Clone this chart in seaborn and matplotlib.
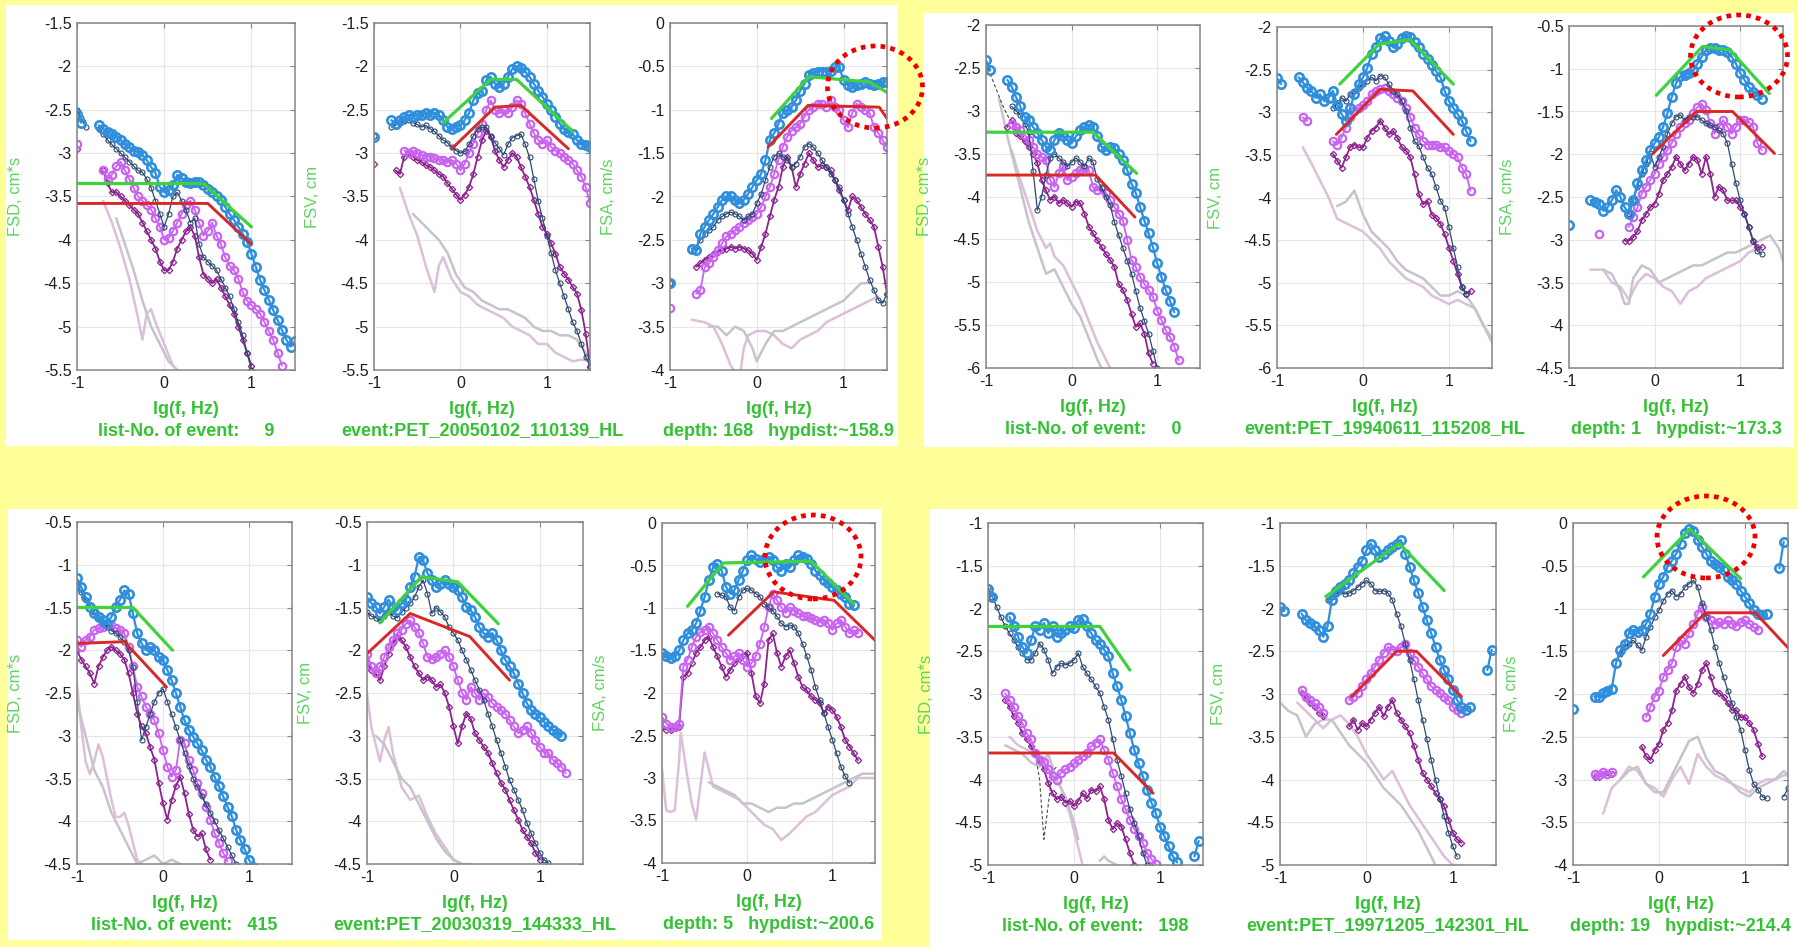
import numpy as np
import pandas as pd
import matplotlib
matplotlib.use("Agg")
import matplotlib.pyplot as plt
import seaborn as sns
from matplotlib.patches import Rectangle, Ellipse

N = None
STEP = 0.05  # lg(f) spacing of the spectral samples

# ======================= event 9 =======================
EV9_TEXT = ("list-No. of event:     9", "event:PET_20050102_110139_HL", "depth: 168   hypdist:~158.9")
# FSD
EV9_FSD_BLUE = (-1.0, [-2.55, -2.65, N, N, N, -2.68, -2.72, -2.76, -2.78, -2.81, -2.85, -2.89, -2.93, -2.97, -2.99, -3.02, -3.08, -3.16, -3.23, -3.39, -3.45, -3.43, -3.37, -3.25, -3.29, -3.33, -3.34, -3.33, -3.33, -3.37, -3.41, -3.45, -3.49, -3.54, -3.62, -3.70, -3.77, -3.85, -3.93, -4.02, -4.16, -4.31, -4.46, -4.58, -4.69, -4.81, -4.92, -5.04, -5.15, -5.23, -5.17])
EV9_FSD_NAVY = (-1.0, [-2.5, -2.6, -2.7, N, N, -2.72, -2.78, -2.85, -2.9, -2.95, -3.0, -3.05, -3.1, -3.15, -3.2, -3.22, -3.3, -3.4, -3.55, -3.7, -3.85, -3.7, -3.5, -3.45, -3.55, -3.65, -3.8, -3.75, -4.05, -4.2, -4.25, -4.3, -4.35, -4.45, -4.55, -4.65, -4.8, -4.95, -5.1, -5.3, -5.5])
EV9_FSD_VIOL = (-1.0, [-2.9, N, N, N, N, N, -3.2, -3.3, -3.25, -3.15, -3.1, -3.2, -3.3, -3.4, -3.5, -3.55, -3.6, -3.65, -3.75, -3.85, -4.0, -3.98, -3.9, -3.8, -3.7, -3.6, -3.55, -3.65, -3.8, -3.95, -3.9, -3.8, -3.95, -4.05, -4.2, -4.3, -4.35, -4.45, -4.6, -4.7, -4.75, -4.8, -4.85, -4.95, -5.05, -5.15, -5.3, -5.45])
EV9_FSD_PURP = (-1.0, [-2.95, N, N, N, N, N, -3.2, -3.35, -3.45, -3.45, -3.5, -3.55, -3.6, -3.65, -3.7, -3.8, -3.9, -4.0, -4.1, -4.25, -4.35, -4.35, -4.25, -4.1, -4.0, -3.9, -3.85, -3.95, -4.2, -4.4, -4.45, -4.5, -4.45, -4.55, -4.65, -4.75, -4.85, -5.0, -5.15, -5.3, -5.45])
EV9_FSD_PINK_X = [-0.7, -0.6, -0.5, -0.4, -0.3, -0.25, -0.2, -0.15, -0.1, 0.0, 0.1]
EV9_FSD_PINK_Y = [-3.55, -3.8, -4.1, -4.45, -4.9, -5.15, -4.85, -4.8, -4.95, -5.2, -5.45]
EV9_FSD_GREY_X = [-0.55, -0.45, -0.35, -0.25, -0.15, -0.05, 0.05, 0.15]
EV9_FSD_GREY_Y = [-3.75, -4.05, -4.35, -4.7, -5.0, -5.2, -5.4, -5.5]
EV9_FSD_GREEN_X = [-1.0, 0.45, 1.0]
EV9_FSD_GREEN_Y = [-3.35, -3.35, -3.85]
EV9_FSD_RED_X = [-1.0, 0.5, 1.0]
EV9_FSD_RED_Y = [-3.58, -3.58, -4.05]
# FSV
EV9_FSV_BLUE = (-1.0, [-2.81, N, N, N, -2.62, -2.66, -2.62, -2.58, -2.56, -2.58, -2.56, -2.56, -2.54, -2.56, -2.54, -2.56, -2.62, -2.70, -2.72, -2.70, -2.68, -2.62, -2.54, -2.39, -2.31, -2.28, -2.16, -2.12, -2.2, -2.24, -2.2, -2.12, -2.03, -2.0, -2.02, -2.06, -2.12, -2.2, -2.28, -2.35, -2.43, -2.5, -2.58, -2.66, -2.72, -2.76, -2.78, -2.85, -2.89, -2.91, -2.93])
EV9_FSV_NAVY = (-1.0, [-2.8, N, N, N, -2.7, -2.68, -2.65, -2.63, -2.62, -2.65, -2.67, -2.7, -2.68, -2.72, -2.75, -2.8, -2.85, -2.88, -2.93, -2.97, -3.0, -2.98, -2.9, -2.8, -2.72, -2.7, -2.7, -2.8, -2.88, -2.95, -3.02, -2.9, -2.82, -2.8, -2.78, -2.9, -3.05, -3.3, -3.55, -3.75, -3.95, -4.15, -4.35, -4.5, -4.65, -4.8, -4.95, -5.05, -5.2, -5.35, -5.45])
EV9_FSV_VIOL = (-0.65, [-2.97, -3.0, -2.98, -3.0, -3.02, -3.04, -3.04, -3.06, -3.08, -3.08, -3.1, -3.08, -3.12, -3.2, -3.12, -3.0, -2.89, -2.77, -2.66, -2.5, -2.39, -2.5, -2.54, -2.5, -2.54, -2.47, -2.39, -2.43, -2.54, -2.66, -2.77, -2.85, -2.89, -2.85, -2.93, -2.97, -3.0, -3.04, -3.08, -3.12, -3.2, -3.27, -3.39, -3.58])
EV9_FSV_PURP = (-1.0, [-3.12, N, N, N, N, -3.2, -3.24, -3.04, -3.0, -3.04, -3.08, -3.1, -3.14, -3.16, -3.2, -3.24, -3.27, -3.35, -3.41, -3.48, -3.54, -3.48, -3.39, -3.24, -3.04, -2.85, -2.74, -2.81, -2.97, -3.08, -3.16, -3.08, -3.0, -3.04, -3.16, -3.27, -3.39, -3.54, -3.7, -3.85, -3.93, -4.04, -4.16, -4.31, -4.39, -4.46, -4.54, -4.62, -4.81, -5.08, -5.46])
EV9_FSV_PINK_X = [-0.7, -0.6, -0.5, -0.4, -0.3, -0.25, -0.2, -0.1, 0.0, 0.1, 0.2, 0.3, 0.4, 0.5, 0.6, 0.7, 0.8, 0.9, 1.0, 1.1, 1.2, 1.3, 1.4, 1.5]
EV9_FSV_PINK_Y = [-3.4, -3.7, -3.95, -4.3, -4.6, -4.3, -4.2, -4.45, -4.6, -4.65, -4.75, -4.8, -4.85, -4.9, -5.0, -5.05, -5.1, -5.2, -5.2, -5.3, -5.35, -5.4, -5.38, -5.4]
EV9_FSV_GREY_X = [-0.55, -0.45, -0.35, -0.25, -0.15, -0.05, 0.05, 0.15, 0.25, 0.35, 0.45, 0.55, 0.65, 0.75, 0.85, 0.95, 1.05, 1.15, 1.25, 1.35, 1.45, 1.5]
EV9_FSV_GREY_Y = [-3.7, -3.8, -3.9, -4.0, -4.15, -4.4, -4.55, -4.6, -4.7, -4.75, -4.8, -4.8, -4.85, -4.9, -5.0, -5.05, -5.05, -5.1, -5.1, -5.15, -5.3, -5.45]
EV9_FSV_GREEN_X = [-0.2, 0.35, 0.65, 1.3]
EV9_FSV_GREEN_Y = [-2.65, -2.15, -2.15, -2.75]
EV9_FSV_RED_X = [-0.1, 0.4, 0.7, 1.25]
EV9_FSV_RED_Y = [-2.95, -2.47, -2.45, -2.95]
# FSA
EV9_FSA_BLUE = (-1.0, [-3.0, N, N, N, N, -2.6, -2.62, -2.43, -2.35, -2.27, -2.2, -2.12, -2.04, -2.0, -2.0, -2.04, -2.08, -2.04, -1.97, -1.89, -1.81, -1.74, -1.58, -1.35, -1.27, -1.16, -1.04, -1.0, -0.97, -0.89, -0.78, -0.7, -0.6, -0.58, -0.56, -0.56, -0.56, -0.55, -0.51, -0.51, -0.66, -0.72, -0.74, -0.72, -0.7, -0.68, -0.7, -0.72, -0.7, -0.68, -0.68])
EV9_FSA_NAVY = (-1.0, [-3.0, N, N, N, N, N, -2.58, -2.5, -2.43, -2.39, -2.35, -2.27, -2.23, -2.2, -2.18, -2.2, -2.23, -2.27, -2.23, -2.2, -2.08, -1.97, -1.81, -1.66, -1.54, -1.5, -1.54, -1.58, -1.66, -1.62, -1.54, -1.43, -1.39, -1.43, -1.5, -1.58, -1.66, -1.74, -1.81, -1.89, -2.04, -2.2, -2.35, -2.5, -2.66, -2.81, -2.96, -3.08, -3.19, -3.23, -3.12])
EV9_FSA_VIOL = (-1.0, [-3.29, N, N, N, N, N, -3.12, -3.08, -2.81, -2.77, -2.7, -2.62, -2.54, -2.46, -2.43, -2.39, -2.35, -2.31, -2.27, -2.24, -2.2, -2.12, -2.0, -1.89, -1.74, -1.58, -1.43, -1.31, -1.24, -1.2, -1.16, -1.08, -1.0, -0.97, -0.93, -0.93, -0.97, -0.89, -0.97, -1.0, -1.12, -1.2, -1.04, -0.93, -0.97, -1.0, -1.04, -1.2, -1.27, -1.35, -1.43])
EV9_FSA_PURP = (-0.7, [-2.81, -2.77, -2.73, -2.7, -2.66, -2.64, -2.62, -2.6, -2.58, -2.6, -2.58, -2.6, -2.62, -2.66, -2.73, -2.58, -2.43, -2.23, -2.04, -1.89, -1.66, -1.54, -1.66, -1.89, -1.74, -1.62, -1.5, -1.58, -1.66, -1.64, -1.66, -1.7, -1.81, -1.93, -2.04, -2.16, -2.0, -2.04, -2.12, -2.2, -2.27, -2.35, -2.58, -2.81, -3.12])
EV9_FSA_PINK_X = [-0.75, -0.6, -0.5, -0.4, -0.3, -0.2, -0.15, -0.1, 0.0, 0.1, 0.2, 0.3, 0.4, 0.5, 0.6, 0.7, 0.8, 0.9, 1.0, 1.1, 1.2, 1.3, 1.4]
EV9_FSA_PINK_Y = [-3.42, -3.45, -3.5, -3.7, -3.95, -4.1, -3.75, -3.6, -3.55, -3.55, -3.6, -3.7, -3.75, -3.65, -3.6, -3.55, -3.45, -3.4, -3.35, -3.3, -3.25, -3.2, -3.15]
EV9_FSA_GREY_X = [-0.55, -0.45, -0.35, -0.25, -0.15, -0.05, 0.0, 0.1, 0.2, 0.3, 0.4, 0.5, 0.6, 0.7, 0.8, 0.9, 1.0, 1.1, 1.2, 1.3]
EV9_FSA_GREY_Y = [-3.5, -3.5, -3.6, -3.5, -3.55, -3.75, -3.9, -3.7, -3.55, -3.55, -3.5, -3.45, -3.4, -3.35, -3.3, -3.25, -3.2, -3.1, -3.0, -3.0]
EV9_FSA_GREEN_X = [0.17, 0.6, 1.3, 1.5]
EV9_FSA_GREEN_Y = [-1.1, -0.62, -0.68, -0.8]
EV9_FSA_RED_X = [0.13, 0.59, 1.41, 1.5]
EV9_FSA_RED_Y = [-1.43, -0.95, -0.97, -1.1]

# ======================= event 0 =======================
EV0_TEXT = ("list-No. of event:     0", "event:PET_19940611_115208_HL", "depth: 1   hypdist:~173.3")
EV0_FSD_BLUE = (-1.0, [-2.41, -2.53, N, N, N, -2.64, -2.72, -2.84, -2.95, -3.07, -3.11, -3.19, -3.26, -3.34, -3.42, -3.46, -3.34, -3.26, -3.3, -3.34, -3.38, -3.3, -3.23, -3.19, -3.17, -3.19, -3.3, -3.42, -3.46, -3.42, -3.44, -3.5, -3.58, -3.69, -3.85, -3.96, -4.12, -4.28, -4.43, -4.59, -4.78, -4.94, -5.09, -5.22, -5.35])
EV0_FSD_NAVY = (-1.0, [-2.49, N, N, N, N, N, -2.95, -3.0, -3.05, -3.15, -3.25, -3.7, -4.16, -4.0, -3.75, -3.55, -3.5, -3.55, -3.6, -3.65, -3.6, -3.55, -3.6, -3.65, -3.55, -3.6, -3.8, -3.9, -4.0, -4.1, -4.3, -4.45, -4.6, -4.75, -4.9, -5.1, -5.3, -5.45, -5.6, -5.8, -6.0])
EV0_FSD_VIOL = (-0.7, [-3.15, -3.19, -3.23, -3.28, -3.34, -3.42, -3.5, -3.54, -3.58, -3.81, -3.89, -3.73, -3.65, -3.81, -3.77, -3.73, -3.69, -3.67, -3.69, -3.89, -3.93, -3.9, -3.96, -4.04, -4.12, -4.2, -4.28, -4.51, -4.74, -4.82, -4.94, -5.02, -5.09, -5.17, -5.33, -5.44, -5.56, -5.64, -5.75, -5.91])
EV0_FSD_PURP = (-0.75, [-3.19, -3.11, -3.26, -3.3, -3.35, -3.42, -3.5, -3.61, -3.81, -3.93, -4.04, -4.0, -4.08, -4.04, -4.08, -4.12, -4.06, -4.08, -4.2, -4.35, -4.43, -4.51, -4.59, -4.67, -4.74, -4.82, -5.02, -5.09, -5.21, -5.37, -5.52, -5.48, -5.6, -5.83, -5.95])
EV0_FSD_DASH_X = [-1.0, -0.9, -0.8, -0.7, -0.6, -0.5]
EV0_FSD_DASH_Y = [-2.45, -2.7, -2.95, -3.15, -3.3, -3.45]
EV0_FSD_PINK_X = [-0.7, -0.6, -0.5, -0.4, -0.3, -0.25, -0.2, -0.1, 0.0, 0.1, 0.2, 0.3, 0.4, 0.45]
EV0_FSD_PINK_Y = [-3.46, -3.8, -4.1, -4.4, -4.6, -4.55, -4.7, -4.8, -5.0, -5.2, -5.45, -5.7, -5.9, -6.0]
EV0_FSD_GREY_X = [-0.85, -0.75, -0.6, -0.5, -0.4, -0.3, -0.2, -0.1, 0.0, 0.1, 0.2, 0.3, 0.35]
EV0_FSD_GREY_Y = [-2.85, -3.3, -3.9, -4.3, -4.6, -4.9, -4.85, -5.05, -5.25, -5.4, -5.65, -5.9, -6.0]
EV0_FSD_GREEN_X = [-1.0, 0.25, 0.76]
EV0_FSD_GREEN_Y = [-3.25, -3.25, -3.73]
EV0_FSD_RED_X = [-1.0, 0.28, 0.74]
EV0_FSD_RED_Y = [-3.75, -3.75, -4.24]

EV0_FSV_BLUE = (-1.0, [-2.6, -2.67, N, N, N, -2.59, -2.65, -2.71, -2.75, -2.83, -2.79, -2.87, -2.83, -2.75, -2.91, -3.02, -3.1, -2.95, -2.79, -2.67, -2.59, -2.48, -2.32, -2.24, -2.13, -2.11, -2.16, -2.24, -2.2, -2.13, -2.11, -2.12, -2.18, -2.24, -2.32, -2.38, -2.44, -2.52, -2.59, -2.75, -2.87, -2.95, -3.02, -3.1, -3.22, -3.34])
EV0_FSV_NAVY = (-0.35, [-2.95, -2.91, -2.83, -2.87, -2.79, -2.75, -2.71, -2.67, -2.63, -2.59, -2.63, -2.57, -2.59, -2.67, -2.75, -2.79, -2.87, -2.98, -3.18, -3.34, -3.4, -3.53, -3.65, -3.73, -3.88, -4.04, -4.12, -4.35, -4.59, -4.82, -5.05, -5.13])
EV0_FSV_VIOL = (-0.7, [-3.06, -3.1, N, N, N, N, N, -3.34, -3.38, -3.3, -3.18, -3.06, -2.98, -2.95, -2.91, -2.87, -2.79, -2.75, -2.73, -2.71, -2.75, -2.79, -2.83, -2.87, -2.95, -3.06, -3.18, -3.26, -3.34, -3.38, -3.38, -3.38, -3.41, -3.41, -3.45, -3.49, -3.53, -3.65, -3.73, -3.92])
EV0_FSV_PURP = (-0.35, [-3.49, -3.57, -3.65, -3.53, -3.41, -3.38, -3.41, -3.41, -3.3, -3.22, -3.18, -3.1, -3.18, -3.26, -3.22, -3.3, -3.41, -3.45, -3.53, -3.73, -3.96, -4.08, -4.04, -4.2, -4.24, -4.31, -4.43, -4.59, -4.74, -4.9, -5.05, -5.13, -5.1])
EV0_FSV_PINK_X = [-0.7, -0.6, -0.5, -0.4, -0.3, -0.2, -0.1, 0.0, 0.1, 0.2, 0.3, 0.4, 0.5, 0.6, 0.7, 0.8, 0.9, 1.0, 1.1, 1.2, 1.3, 1.4, 1.5]
EV0_FSV_PINK_Y = [-3.41, -3.6, -3.8, -4.0, -4.25, -4.3, -4.35, -4.4, -4.5, -4.6, -4.75, -4.85, -4.95, -5.0, -5.05, -5.15, -5.2, -5.25, -5.2, -5.25, -5.3, -5.5, -5.65]
EV0_FSV_GREY_X = [-0.3, -0.2, -0.1, 0.0, 0.1, 0.2, 0.3, 0.4, 0.5, 0.6, 0.7, 0.8, 0.9, 1.0, 1.1, 1.2, 1.3, 1.4, 1.5]
EV0_FSV_GREY_Y = [-4.1, -4.05, -3.92, -4.2, -4.4, -4.5, -4.6, -4.75, -4.85, -4.9, -4.95, -5.05, -5.15, -5.15, -5.1, -5.15, -5.3, -5.5, -5.7]
EV0_FSV_GREEN_X = [-0.27, 0.19, 0.55, 1.05]
EV0_FSV_GREEN_Y = [-2.67, -2.2, -2.15, -2.67]
EV0_FSV_RED_X = [-0.31, 0.2, 0.58, 1.05]
EV0_FSV_RED_Y = [-3.26, -2.73, -2.75, -3.26]

EV0_FSA_BLUE = (-1.0, [-2.83, N, N, N, N, -2.54, -2.56, -2.58, -2.66, -2.62, -2.54, -2.42, -2.5, -2.62, -2.7, -2.54, -2.34, -2.19, -2.07, -1.95, -1.87, -1.8, -1.68, -1.52, -1.33, -1.17, -1.09, -1.07, -1.05, -1.02, -0.94, -0.86, -0.78, -0.76, -0.76, -0.78, -0.78, -0.8, -0.86, -0.94, -1.05, -1.13, -1.21, -1.27, -1.31, -1.35])
EV0_FSA_NAVY = (-0.3, [-2.7, -2.54, -2.38, -2.23, -2.11, -1.99, -2.15, -2.03, -1.91, -1.76, -1.64, -1.56, -1.54, -1.6, -1.56, -1.56, -1.56, -1.6, -1.64, -1.66, -1.68, -1.72, -1.76, -1.87, -2.11, -2.34, -2.54, -2.7, -2.85, -3.01, -3.13, -3.17])
EV0_FSA_VIOL = (-0.65, [-2.93, N, N, N, N, N, N, -2.85, -2.73, -2.62, -2.46, -2.38, -2.3, -2.23, -2.11, -2.03, -1.95, -1.87, -1.76, -1.68, -1.64, -1.6, -1.52, -1.45, -1.41, -1.48, -1.64, -1.76, -1.68, -1.6, -1.68, -1.76, -1.68, -1.6, -1.6, -1.62, -1.68, -1.87, -1.95])
EV0_FSA_PURP = (-0.35, [-3.01, -3.01, -2.97, -2.9, -2.77, -2.7, -2.62, -2.58, -2.46, -2.3, -2.23, -2.15, -2.03, -2.11, -2.19, -2.11, -2.03, -2.07, -2.23, -2.03, -2.23, -2.5, -2.38, -2.42, -2.54, -2.54, -2.54, -2.62, -2.7, -2.85, -3.01, -3.09, -3.09])
EV0_FSA_PINK_X = [-0.75, -0.6, -0.5, -0.4, -0.3, -0.2, -0.1, 0.0, 0.1, 0.2, 0.3, 0.4, 0.5, 0.6, 0.7, 0.8, 0.9, 1.0, 1.1, 1.2]
EV0_FSA_PINK_Y = [-3.35, -3.35, -3.5, -3.55, -3.7, -3.5, -3.4, -3.45, -3.55, -3.6, -3.75, -3.6, -3.55, -3.45, -3.4, -3.35, -3.3, -3.25, -3.15, -3.1]
EV0_FSA_GREY_X = [-0.6, -0.5, -0.4, -0.35, -0.3, -0.25, -0.15, -0.05, 0.05, 0.15, 0.25, 0.35, 0.45, 0.55, 0.65, 0.75, 0.85, 0.95, 1.05, 1.15, 1.25, 1.35, 1.45, 1.5]
EV0_FSA_GREY_Y = [-3.35, -3.4, -3.6, -3.75, -3.75, -3.45, -3.3, -3.35, -3.5, -3.45, -3.4, -3.35, -3.3, -3.3, -3.25, -3.2, -3.15, -3.15, -3.1, -3.05, -3.0, -2.95, -3.1, -3.25]
EV0_FSA_GREEN_X = [0.02, 0.56, 0.88, 1.34]
EV0_FSA_GREEN_Y = [-1.31, -0.74, -0.78, -1.29]
EV0_FSA_RED_X = [-0.02, 0.49, 0.91, 1.4]
EV0_FSA_RED_Y = [-1.99, -1.5, -1.5, -1.99]

# ======================= event 415 =======================
EV415_TEXT = ("list-No. of event:   415", "event:PET_20030319_144333_HL", "depth: 5   hypdist:~200.6")
EV415_FSD_BLUE = (-1.0, [-1.16, -1.26, -1.38, -1.49, -1.57, -1.61, -1.65, -1.69, -1.61, -1.49, -1.41, -1.3, -1.34, -1.57, -1.8, -1.92, -2.0, -1.96, -2.0, -2.08, -2.11, -2.23, -2.35, -2.5, -2.66, -2.82, -2.93, -3.01, -3.09, -3.17, -3.28, -3.36, -3.48, -3.59, -3.71, -3.83, -3.94, -4.1, -4.22, -4.33, -4.45, -4.53])
EV415_FSD_NAVY = (-1.0, [-1.26, -1.32, -1.41, -1.47, -1.55, -1.62, -1.68, -1.73, -1.77, -1.8, -1.85, -1.9, -2.0, -2.2, -2.6, -3.05, -2.9, -2.75, -2.6, -2.5, -2.45, -2.6, -2.75, -2.9, -3.05, -3.2, -3.35, -3.5, -3.6, -3.7, -3.8, -3.9, -4.0, -4.1, -4.2, -4.3, -4.4, -4.5])
EV415_FSD_VIOL = (-1.0, [-1.88, -1.96, -1.88, -1.84, -1.76, -1.74, -1.73, -1.69, -1.71, -1.74, -1.76, -1.8, -1.96, -2.19, -2.43, -2.54, -2.66, -2.74, -2.82, -2.97, -3.17, -3.36, -3.48, -3.4, -3.05, -3.09, -3.28, -3.4, -3.55, -3.67, -3.83, -3.98, -4.14, -4.25, -4.37, -4.47])
EV415_FSD_PURP = (-1.0, [-2.0, -2.11, -2.19, -2.27, -2.39, -2.19, -2.08, -2.0, -1.96, -2.0, -2.04, -2.11, -2.27, -2.5, -2.74, -2.89, -2.97, -3.13, -3.28, -3.55, -3.79, -3.98, -3.75, -3.59, -3.48, -3.67, -3.91, -4.1, -4.18, -4.14, -4.33, -4.45])
EV415_FSD_PINK_X = [-1.0, -0.95, -0.9, -0.85, -0.8, -0.75, -0.7, -0.65, -0.6, -0.55, -0.5, -0.45, -0.4, -0.35, -0.3, -0.25]
EV415_FSD_PINK_Y = [-2.4, -2.9, -3.3, -3.45, -3.3, -3.1, -3.25, -3.5, -3.75, -3.95, -3.95, -3.9, -4.05, -4.25, -4.45, -4.5]
EV415_FSD_GREY_X = [-1.0, -0.95, -0.9, -0.85, -0.8, -0.7, -0.6, -0.5, -0.4, -0.3, -0.2, -0.1, 0.0, 0.1, 0.2]
EV415_FSD_GREY_Y = [-2.6, -2.8, -3.0, -3.2, -3.4, -3.6, -3.9, -4.1, -4.3, -4.5, -4.45, -4.4, -4.5, -4.45, -4.5]
EV415_FSD_GREEN_X = [-1.0, -0.35, 0.11]
EV415_FSD_GREEN_Y = [-1.5, -1.5, -2.0]
EV415_FSD_RED_X = [-1.0, -0.45, 0.04]
EV415_FSD_RED_Y = [-1.92, -1.9, -2.43]

EV415_FSV_BLUE = (-1.0, [-1.38, -1.45, -1.49, -1.57, -1.49, -1.41, -1.49, -1.53, -1.45, -1.41, -1.26, -1.14, -0.91, -0.95, -1.1, -1.18, -1.26, -1.22, -1.18, -1.22, -1.26, -1.3, -1.38, -1.49, -1.53, -1.61, -1.73, -1.8, -1.84, -1.8, -1.88, -2.0, -2.11, -2.19, -2.27, -2.39, -2.5, -2.62, -2.7, -2.74, -2.78, -2.84, -2.89, -2.93, -2.97, -3.0])
EV415_FSV_NAVY = (-1.0, [-1.55, -1.6, -1.62, -1.65, -1.6, -1.55, -1.6, -1.62, -1.55, -1.5, -1.45, -1.38, -1.26, -1.18, -1.34, -1.57, -1.5, -1.55, -1.61, -1.73, -1.8, -1.88, -2.0, -2.11, -2.23, -2.35, -2.46, -2.58, -2.74, -2.89, -3.05, -3.2, -3.36, -3.52, -3.63, -3.75, -3.87, -4.02, -4.14, -4.26, -4.37, -4.45, -4.49])
EV415_FSV_VIOL = (-1.0, [-2.04, -2.19, -2.27, -2.19, -2.08, -1.96, -1.88, -1.8, -1.76, -1.69, -1.65, -1.73, -1.8, -1.92, -2.08, -2.1, -2.08, -2.04, -2.0, -2.08, -2.19, -2.35, -2.5, -2.58, -2.43, -2.5, -2.58, -2.5, -2.55, -2.62, -2.66, -2.7, -2.74, -2.82, -2.89, -2.97, -2.93, -2.89, -2.97, -3.05, -3.13, -3.2, -3.2, -3.28, -3.32, -3.36, -3.44])
EV415_FSV_PURP = (-1.0, [-2.15, -2.23, -2.27, -2.35, -2.19, -2.04, -1.92, -1.84, -1.88, -1.96, -2.08, -2.19, -2.27, -2.35, -2.31, -2.35, -2.43, -2.4, -2.5, -2.66, -2.89, -3.09, -2.89, -2.74, -2.8, -2.97, -3.05, -3.13, -3.2, -3.32, -3.44, -3.55, -3.63, -3.75, -3.87, -3.98, -4.1, -4.18, -4.26, -4.37, -4.45])
EV415_FSV_PINK_X = [-1.0, -0.95, -0.9, -0.85, -0.8, -0.75, -0.7, -0.6, -0.5, -0.4, -0.3, -0.2, -0.1, 0.0, 0.1, 0.2]
EV415_FSV_PINK_Y = [-2.5, -2.9, -3.1, -3.3, -3.05, -2.9, -3.2, -3.6, -3.75, -3.7, -3.95, -4.15, -4.3, -4.45, -4.5, -4.5]
EV415_FSV_GREY_X = [-0.9, -0.8, -0.7, -0.6, -0.5, -0.4, -0.3, -0.2, -0.1, 0.0, 0.1]
EV415_FSV_GREY_Y = [-3.0, -3.1, -3.3, -3.5, -3.6, -3.8, -4.0, -4.2, -4.35, -4.45, -4.5]
EV415_FSV_GREEN_X = [-0.85, -0.37, 0.05, 0.52]
EV415_FSV_GREEN_Y = [-1.68, -1.14, -1.2, -1.69]
EV415_FSV_RED_X = [-1.0, -0.5, 0.19, 0.65]
EV415_FSV_RED_Y = [-2.04, -1.57, -1.84, -2.35]

EV415_FSA_BLUE = (-1.0, [-1.53, -1.57, -1.59, -1.57, -1.5, -1.38, -1.3, -1.26, -1.18, -1.03, -0.87, -0.67, -0.52, -0.48, -0.56, -0.75, -0.83, -0.79, -0.67, -0.56, -0.44, -0.38, -0.42, -0.46, -0.42, -0.4, -0.44, -0.52, -0.56, -0.48, -0.52, -0.44, -0.38, -0.4, -0.42, -0.48, -0.56, -0.61, -0.67, -0.71, -0.75, -0.79, -0.83, -0.87, -0.95, -0.97])
EV415_FSA_NAVY = (-0.35, [-0.83, -0.85, -0.87, -0.99, -1.03, -0.87, -0.79, -0.77, -0.79, -0.83, -0.87, -0.95, -0.99, -1.03, -1.1, -1.18, -1.22, -1.2, -1.22, -1.3, -1.42, -1.57, -1.73, -1.93, -2.08, -2.24, -2.4, -2.55, -2.71, -2.87, -2.98, -3.06])
EV415_FSA_VIOL = (-1.0, [-2.28, -2.36, -2.4, -2.4, -2.36, -1.69, -1.61, -1.46, -1.34, -1.28, -1.26, -1.22, -1.3, -1.38, -1.46, -1.53, -1.61, -1.57, -1.53, -1.61, -1.69, -1.65, -1.57, -1.42, -1.22, -0.99, -0.83, -0.91, -0.99, -1.06, -0.99, -1.03, -1.06, -1.1, -1.1, -1.12, -1.14, -1.16, -1.14, -1.18, -1.26, -1.18, -1.14, -1.22, -1.3, -1.26, -1.3])
EV415_FSA_PURP = (-1.0, [-2.4, -2.43, -2.43, -2.4, -2.4, -1.81, -1.77, -1.65, -1.53, -1.46, -1.38, -1.34, -1.46, -1.57, -1.69, -1.81, -1.73, -1.65, -1.6, -1.55, -1.53, -1.77, -2.04, -2.12, -1.89, -1.38, -1.3, -1.53, -1.69, -1.57, -1.5, -1.65, -1.81, -1.93, -1.97, -2.04, -2.08, -2.12, -2.24, -2.16, -2.2, -2.28, -2.4, -2.55, -2.63, -2.71, -2.79])
EV415_FSA_PINK_X = [-1.0, -0.95, -0.9, -0.85, -0.8, -0.78, -0.7, -0.65, -0.6, -0.55, -0.5, -0.45, -0.4, -0.3, -0.2, -0.1, 0.0, 0.1, 0.2, 0.3, 0.4, 0.5, 0.6, 0.7, 0.8, 0.9, 1.0, 1.1, 1.2, 1.3, 1.4, 1.5]
EV415_FSA_PINK_Y = [-2.9, -3.38, -3.4, -3.38, -2.8, -2.47, -3.0, -3.3, -3.49, -3.1, -2.7, -2.9, -3.1, -3.15, -3.2, -3.25, -3.35, -3.45, -3.55, -3.6, -3.73, -3.65, -3.55, -3.45, -3.4, -3.3, -3.2, -3.15, -3.1, -3.0, -3.0, -3.0]
EV415_FSA_GREY_X = [-0.45, -0.35, -0.25, -0.15, -0.05, 0.05, 0.15, 0.25, 0.35, 0.45, 0.55, 0.65, 0.75, 0.85, 0.95, 1.05, 1.15, 1.25, 1.35, 1.45, 1.5]
EV415_FSA_GREY_Y = [-3.05, -3.1, -3.15, -3.2, -3.3, -3.3, -3.35, -3.4, -3.35, -3.35, -3.3, -3.3, -3.25, -3.2, -3.15, -3.1, -3.05, -3.0, -2.95, -2.95, -2.95]
EV415_FSA_GREEN_X = [-0.7, -0.28, 0.75, 1.25]
EV415_FSA_GREEN_Y = [-0.98, -0.47, -0.45, -0.95]
EV415_FSA_RED_X = [-0.22, 0.31, 1.02, 1.5]
EV415_FSA_RED_Y = [-1.32, -0.81, -0.91, -1.38]

# ======================= event 198 =======================
EV198_TEXT = ("list-No. of event:   198", "event:PET_19971205_142301_HL", "depth: 19   hypdist:~214.4")
EV198_FSD_BLUE = (-1.0, [-1.77, -1.86, N, N, N, -2.1, -2.21, -2.33, -2.45, -2.52, -2.37, -2.21, -2.25, -2.17, -2.29, -2.21, -2.33, -2.29, -2.25, -2.21, -2.23, -2.13, -2.12, -2.21, -2.29, -2.37, -2.41, -2.48, -2.56, -2.76, -2.91, -3.07, -3.26, -3.46, -3.65, -3.81, -3.96, -4.12, -4.27, -4.39, -4.55, -4.66, -4.78, -4.9, -4.97, N, N, N, -4.9, -4.72])
EV198_FSD_NAVY = (-1.0, [-1.75, -1.86, -1.98, -2.1, -2.21, -2.29, -2.37, -2.45, -2.52, -2.6, -2.6, -2.52, -2.41, -2.48, -2.6, -2.76, -2.68, -2.64, -2.66, -2.64, -2.6, -2.52, -2.68, -2.76, -2.83, -2.91, -2.99, -3.15, -3.3, -3.53, -3.77, -3.96, -4.16, -4.35, -4.51, -4.66, -4.86, -5.0])
EV198_FSD_VIOL = (-0.8, [-2.99, -3.07, -3.15, -3.26, -3.34, -3.46, -3.53, -3.69, -3.77, -3.8, -3.88, -3.96, -4.0, -3.92, -3.88, -3.85, -3.81, -3.77, -3.73, -3.69, -3.61, -3.57, -3.53, -3.65, -3.77, -3.92, -4.08, -4.23, -4.35, -4.47, -4.58, -4.66, -4.74, -4.86, -4.93, -4.99])
EV198_FSD_PURP = (-0.8, [-3.07, -3.15, -3.26, -3.34, -3.46, -3.53, -3.61, -3.69, -3.77, -3.88, -4.04, -4.16, -4.23, -4.2, -4.27, -4.25, -4.31, -4.25, -4.16, -4.22, -4.12, -4.14, -4.08, -4.23, -4.47, -4.58, -4.51, -4.55, -4.7, -4.86, -5.0])
EV198_FSD_DASH_X = [-0.5, -0.45, -0.4, -0.35, -0.3, -0.25, -0.2]
EV198_FSD_DASH_Y = [-3.6, -3.7, -4.0, -4.7, -4.3, -3.9, -3.85]
EV198_FSD_PINK_X = [-0.75, -0.65, -0.55, -0.45, -0.35, -0.25, -0.15, -0.05, 0.05, 0.1]
EV198_FSD_PINK_Y = [-3.5, -3.6, -3.65, -3.7, -3.75, -3.95, -4.1, -4.4, -4.8, -5.0]
EV198_FSD_GREY_X = [-0.8, -0.7, -0.6, -0.5, -0.4, -0.3, -0.25, -0.2, -0.1, 0.0, 0.05, 0.2, 0.3, 0.35, 0.4, 0.5]
EV198_FSD_GREY_Y = [-3.6, -3.65, -3.7, -3.8, -3.85, -3.7, -3.85, -4.0, -4.2, -4.5, -4.7, N, -4.95, -4.9, -4.95, -5.0]
EV198_FSD_GREEN_X = [-1.0, 0.3, 0.65]
EV198_FSD_GREEN_Y = [-2.21, -2.21, -2.72]
EV198_FSD_RED_X = [-1.0, 0.46, 0.92]
EV198_FSD_RED_Y = [-3.69, -3.69, -4.16]

EV198_FSV_BLUE = (-1.0, [-1.98, -2.03, N, N, N, -2.06, -2.14, -2.17, -2.21, -2.25, -2.33, -2.21, -1.9, -1.79, -1.75, -1.71, -1.67, -1.59, -1.51, -1.44, -1.32, -1.24, -1.32, -1.4, -1.36, -1.32, -1.28, -1.24, -1.2, -1.36, -1.51, -1.67, -1.82, -1.98, -2.14, -2.29, -2.45, -2.6, -2.72, -2.83, -2.95, -3.07, -3.15, -3.19, -3.15, N, N, N, -2.72, -2.48])
EV198_FSV_NAVY = (-0.45, [-1.9, -1.86, -1.83, -1.8, -1.83, -1.82, -1.79, -1.75, -1.71, -1.67, -1.71, -1.79, -1.8, -1.79, -1.82, -1.9, -2.06, -2.21, -2.41, -2.6, -2.83, -3.07, -3.3, -3.53, -3.77, -4.0, -4.23, -4.43, -4.62, -4.78, -4.9])
EV198_FSV_VIOL = (-0.75, [-2.95, -3.03, -3.07, -3.11, -3.15, -3.22, N, N, N, N, N, -3.07, -3.03, -2.99, -2.91, -2.83, -2.76, -2.68, -2.6, -2.52, -2.45, -2.48, -2.5, -2.45, -2.41, -2.52, -2.6, -2.68, -2.76, -2.83, -2.91, -2.95, -2.99, -3.03, -3.07, -3.15, -3.19, -3.22])
EV198_FSV_PURP = (-0.75, [-2.99, -3.05, -3.11, -3.15, -3.22, -3.26, N, N, N, N, N, -3.38, -3.3, -3.42, -3.34, -3.38, -3.3, -3.22, -3.15, -3.26, -3.15, -3.07, -3.22, -3.3, -3.38, -3.46, -3.61, -3.77, -3.92, -4.0, -4.08, -4.16, -4.23, -4.31, -4.47, -4.62, -4.7, -4.74])
EV198_FSV_PINK_X = [-0.8, -0.7, -0.6, -0.5, -0.4, -0.3, -0.2, -0.1, 0.0, 0.1, 0.2, 0.3, 0.4, 0.5, 0.6, 0.7, 0.8, 0.9, 1.0, 1.05]
EV198_FSV_PINK_Y = [-3.1, -3.2, -3.3, -3.4, -3.3, -3.25, -3.35, -3.5, -3.7, -3.85, -4.0, -3.9, -4.1, -4.3, -4.45, -4.6, -4.75, -4.9, -5.0, -5.0]
EV198_FSV_GREY_X = [-1.0, -0.9, -0.8, -0.7, -0.6, -0.5, -0.4, -0.3, -0.2, -0.1, 0.0, 0.1, 0.2, 0.3, 0.4, 0.5, 0.6, 0.7, 0.8]
EV198_FSV_GREY_Y = [-3.1, -3.2, -3.25, -3.5, -3.35, -3.3, -3.3, -3.45, -3.6, -3.7, -3.8, -3.95, -4.1, -4.2, -4.3, -4.45, -4.6, -4.8, -5.0]
EV198_FSV_GREEN_X = [-0.47, 0.38, 0.9]
EV198_FSV_GREEN_Y = [-1.86, -1.24, -1.79]
EV198_FSV_RED_X = [-0.17, 0.35, 0.58, 1.1]
EV198_FSV_RED_Y = [-3.03, -2.5, -2.5, -3.03]

EV198_FSA_BLUE = (-1.0, [-2.17, N, N, N, N, -2.03, -2.03, -1.99, -1.96, -1.94, -1.64, -1.49, -1.41, -1.29, -1.25, -1.27, -1.25, -1.18, -1.06, -0.86, -0.71, -0.63, -0.51, -0.44, -0.36, -0.24, -0.12, -0.07, -0.09, -0.2, -0.28, -0.36, -0.44, -0.48, -0.51, -0.55, -0.63, -0.67, -0.71, -0.79, -0.86, -0.94, -1.02, -1.06, -1.08, -1.06, N, N, -0.53, -0.22])
EV198_FSA_NAVY = (-0.45, [-1.53, -1.45, -1.41, -1.37, -1.43, -1.49, -1.33, -1.22, -1.1, -1.02, -0.91, -0.83, -0.79, -0.86, -0.83, -0.75, -0.71, -0.67, -0.75, -0.94, -1.1, -1.25, -1.45, -1.64, -1.8, -1.96, -2.11, -2.27, -2.42, -2.66, -2.89, -3.05, -3.12, -3.2, -3.22, N, N, N, -3.2, -3.1])
EV198_FSA_VIOL = (-0.75, [-2.93, -2.95, -2.91, -2.93, -2.91, N, N, N, N, N, N, N, -2.27, -2.15, -2.03, -1.96, -1.8, -1.72, -1.64, -1.45, -1.37, -1.41, -1.29, -1.18, -1.06, -0.98, -1.1, -1.14, -1.18, -1.16, -1.18, -1.14, -1.18, -1.2, -1.16, -1.14, -1.18, -1.22, -1.25])
EV198_FSA_PURP = (-0.75, [-2.97, -2.97, -2.93, -2.95, -2.93, N, N, N, N, N, N, -2.62, -2.73, -2.77, -2.66, -2.58, -2.42, -2.34, -2.19, -1.96, -1.88, -1.8, -1.92, -1.99, -1.88, -1.72, -1.64, -1.8, -1.96, -1.99, -2.03, -2.11, -2.19, -2.19, -2.27, -2.27, -2.34, -2.42, -2.58, -2.73])
EV198_FSA_PINK_X = [-0.65, -0.55, -0.45, -0.35, -0.25, -0.15, -0.05, 0.05, 0.15, 0.25, 0.35, 0.45, 0.55, 0.65, 0.75, 0.85, 0.95, 1.05, 1.15, 1.25, 1.35, 1.45, 1.5]
EV198_FSA_PINK_Y = [-3.4, -3.1, -3.0, -2.85, -2.9, -3.05, -3.1, -3.2, -3.0, -2.85, -3.05, -2.7, -2.85, -2.95, -3.0, -3.05, -3.1, -3.15, -3.05, -3.0, -3.0, -2.95, -2.95]
EV198_FSA_GREY_X = [-0.45, -0.35, -0.25, -0.15, -0.05, 0.05, 0.15, 0.25, 0.35, 0.45, 0.55, 0.65, 0.75, 0.85, 0.95, 1.05, 1.15, 1.25, 1.35, 1.45, 1.5]
EV198_FSA_GREY_Y = [-3.0, -2.9, -2.85, -3.05, -3.15, -3.15, -2.95, -2.75, -2.55, -2.5, -2.75, -2.9, -2.95, -3.05, -3.15, -3.2, -3.1, -3.05, -3.0, -2.9, -2.95]
EV198_FSA_GREEN_X = [-0.18, 0.36, 0.95]
EV198_FSA_GREEN_Y = [-0.63, -0.07, -0.65]
EV198_FSA_RED_X = [0.05, 0.54, 1.12, 1.51]
EV198_FSA_RED_Y = [-1.55, -1.05, -1.05, -1.47]

YLABELS = ["FSD, cm*s", "FSV, cm", "FSA, cm/s"]
YLIMS = [(-5.5, -1.5), (-5.5, -1.5), (-4, 0),
         (-6, -2), (-6, -2), (-4.5, -0.5),
         (-4.5, -0.5), (-4.5, -0.5), (-4, 0),
         (-5, -1), (-5, -1), (-4, 0)]
XTICKS = [-1, 0, 1]

# ---------------------------------------------------------------
W, H = 1798, 947
YELLOW = "#FFFF99"
LBL_GREEN = "#33c233"
YL_GREEN = "#5cd65c"

sns.set_theme(style="white")
plt.rcParams["font.family"] = ["Liberation Sans", "DejaVu Sans"]

fig = plt.figure(figsize=(W / 100, H / 100), dpi=100, facecolor=YELLOW)

PANEL_BOXES = [(6, 5, 898, 446), (923, 13, 1794, 447), (8, 509, 882, 940), (929, 509, 1798, 947)]
AX_BOXES = [(77, 23, 295, 370), (374, 23, 590, 370), (670, 23, 887, 370),
            (986, 25, 1200, 368), (1277, 27, 1492, 368), (1569, 26, 1783, 368),
            (77, 522, 292, 864), (367, 522, 583, 864), (662, 523, 875, 863),
            (988, 523, 1203, 865), (1280, 523, 1496, 865), (1573, 523, 1788, 865)]
RINGS = [(875, 87, 95, 82), (1739, 56, 97, 82), (813, 557, 96, 84), (1706, 537, 98, 82)]

for (l, t, r, b) in PANEL_BOXES:
    fig.add_artist(Rectangle((l / W, 1 - b / H), (r - l) / W, (b - t) / H, transform=fig.transFigure,
                             facecolor="white", edgecolor="none", zorder=-5))

STY = {
    "blue": dict(color="#2f8fdc", marker="o", markersize=6.0, markeredgewidth=1.9,
                 markerfacecolor="none", markeredgecolor="#2f8fdc", linewidth=1.6),
    "navy": dict(color="#2d4a72", marker="o", markersize=3.6, markeredgewidth=0.8,
                 markerfacecolor="none", markeredgecolor="#2d4a72", linewidth=0.9),
    "viol": dict(color="#c964f0", marker="o", markersize=5.3, markeredgewidth=1.6,
                 markerfacecolor="none", markeredgecolor="#c964f0", linewidth=1.3),
    "purp": dict(color="#8c2290", marker="D", markersize=3.2, markeredgewidth=0.9,
                 markerfacecolor="none", markeredgecolor="#8c2290", linewidth=1.3),
    "pink": dict(color="#dcbfd8", linewidth=1.8),
    "grey": dict(color="#c6c3cc", linewidth=1.8),
    "dash": dict(color="#4a4a5a", linewidth=0.8, linestyle=(0, (3, 2))),
    "green": dict(color="#3fd23f", linewidth=2.3),
    "red": dict(color="#d82828", linewidth=2.1),
}


def grid_series(spec):
    x0, vals = spec
    xs = [round(x0 + STEP * i, 4) for i in range(len(vals))]
    return xs, vals


def draw(ax, xs, ys, style):
    segs, sx, sy = [], [], []
    for x, y in zip(xs, ys):
        if y is None:
            if sx:
                segs.append((sx, sy))
            sx, sy = [], []
        else:
            sx.append(x)
            sy.append(y)
    if sx:
        segs.append((sx, sy))
    for a, b in segs:
        df = pd.DataFrame({"x": a, "y": b})
        sns.lineplot(data=df, x="x", y="y", ax=ax, sort=False, estimator=None,
                     legend=False, **STY[style])


def make_sub(prefix):
    g = globals()
    d = {"grid": {}, "xy": {}}
    for k in ["PURP", "VIOL", "NAVY", "BLUE"]:
        d["grid"][k] = g[prefix + "_" + k]
    for k in ["PINK", "GREY", "DASH", "GREEN", "RED"]:
        if prefix + "_" + k + "_X" in g:
            d["xy"][k] = (g[prefix + "_" + k + "_X"], g[prefix + "_" + k + "_Y"])
    return d


EVENTS = [("EV9", EV9_TEXT), ("EV0", EV0_TEXT), ("EV415", EV415_TEXT), ("EV198", EV198_TEXT)]
KINDS = ["FSD", "FSV", "FSA"]

idx = 0
for ev, texts in EVENTS:
    for j, kind in enumerate(KINDS):
        l, t, r, b = AX_BOXES[idx]
        ax = fig.add_axes([l / W, 1 - b / H, (r - l) / W, (b - t) / H])
        ax.set_facecolor("white")
        sub = make_sub(ev + "_" + kind)
        for k in ["PINK", "GREY"]:
            if k in sub["xy"]:
                draw(ax, sub["xy"][k][0], sub["xy"][k][1], k.lower())
        if "DASH" in sub["xy"]:
            draw(ax, sub["xy"]["DASH"][0], sub["xy"]["DASH"][1], "dash")
        for k in ["PURP", "VIOL", "NAVY", "BLUE"]:
            xs, ys = grid_series(sub["grid"][k])
            draw(ax, xs, ys, k.lower())
        for k in ["RED", "GREEN"]:
            draw(ax, sub["xy"][k][0], sub["xy"][k][1], k.lower())

        y0, y1 = YLIMS[idx]
        ax.set_xlim(-1, 1.5)
        ax.set_ylim(y0, y1)
        ax.set_xticks(XTICKS)
        ax.set_xticklabels([f"{v:g}" for v in XTICKS])
        yt = [round(y0 + 0.5 * i, 2) for i in range(int(round((y1 - y0) / 0.5)) + 1)]
        ax.set_yticks(yt)
        ax.set_yticklabels([f"{v:g}" if v != 0 else "0" for v in yt])
        ax.grid(True, color="#e6e6e6", linewidth=0.8)
        ax.set_axisbelow(True)
        ax.tick_params(direction="in", length=3.5, width=0.8, top=True, right=True,
                       labelsize=11.5, colors="#888888", labelcolor="#1e1e1e", pad=4)
        for sp in ax.spines.values():
            sp.set_color("#858585")
            sp.set_linewidth(1.1)
        ax.set_xlabel("")
        ax.set_ylabel(YLABELS[j], color=YL_GREEN, fontsize=12)
        ax.yaxis.set_label_coords(-54 / (r - l), 0.5)

        cx = (l + r) / 2 / W
        fig.text(cx, 1 - (b + 39) / H, "lg(f, Hz)", ha="center", va="center",
                 color=LBL_GREEN, fontsize=13, fontweight="bold")
        fig.text(cx, 1 - (b + 61) / H, texts[j], ha="center", va="center",
                 color=LBL_GREEN, fontsize=13, fontweight="bold")
        idx += 1

for (cx, cy, w, h) in RINGS:
    fig.add_artist(Ellipse((cx / W, 1 - cy / H), w / W, h / H, transform=fig.transFigure,
                           fill=False, edgecolor="#ee0000", linewidth=3.4,
                           linestyle=(0, (1, 1.1)), zorder=20))

fig.savefig("out.png", dpi=100, facecolor=YELLOW)
